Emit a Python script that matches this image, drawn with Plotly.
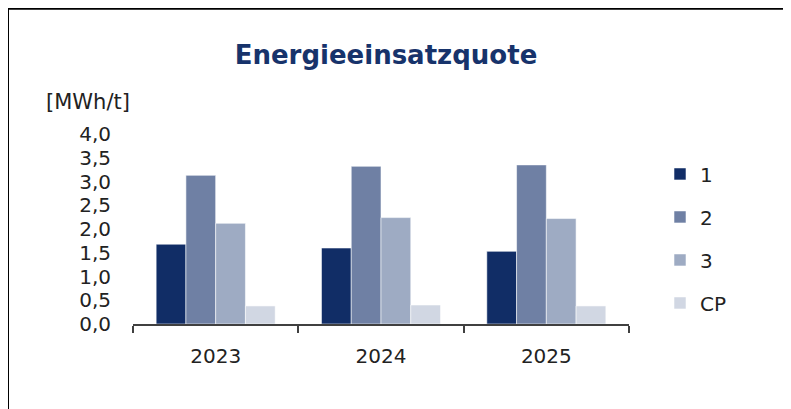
import plotly.graph_objects as go

years = ["2023", "2024", "2025"]
series_names = ["1", "2", "3", "CP"]
values_1 = [1.68, 1.60, 1.53]
values_2 = [3.13, 3.32, 3.35]
values_3 = [2.12, 2.24, 2.22]
values_cp = [0.38, 0.40, 0.38]
series_colors = ["#112d66", "#6f80a4", "#9eabc3", "#d1d7e3"]

# page body adds an 8px margin, so everything is laid out 8px up/left
OFF = 8
W, H = 791, 409
plot_x0, plot_x1 = 133, 629
plot_y0, plot_y1 = 133.5, 324
L = plot_x0 - OFF
T = plot_y0 - OFF
R = W - (plot_x1 - OFF)
B = H - (plot_y1 - OFF)
plot_w = plot_x1 - plot_x0
plot_h = plot_y1 - plot_y0


def px_x(px):
    return (px - plot_x0) / plot_w


def px_y(py):
    return (plot_y1 - py) / plot_h


fig = go.Figure()

for name, vals, color in zip(series_names, [values_1, values_2, values_3, values_cp], series_colors):
    fig.add_trace(
        go.Bar(
            x=years,
            y=vals,
            name=name,
            legendgroup=name,
            marker=dict(color=color, line=dict(color="rgba(255,255,255,0.55)", width=1)),
        )
    )

font_main = "DejaVu Sans, Verdana, sans-serif"

fig.update_layout(
    width=W,
    height=H,
    margin=dict(l=L, r=R, t=T, b=B, autoexpand=False),
    paper_bgcolor="white",
    plot_bgcolor="white",
    font=dict(family=font_main, color="#222222", size=20),
    barmode="group",
    bargap=0.28,
    bargroupgap=0,
    title=dict(
        text="<b>Energieeinsatzquote</b>",
        x=(386 - OFF) / W,
        xanchor="center",
        y=1 - (55 - OFF) / H,
        yanchor="middle",
        font=dict(size=26, color="#17336b", family=font_main),
    ),
    separators=",.",
    xaxis=dict(
        showline=True,
        linecolor="#404040",
        linewidth=1.5,
        ticks="outside",
        tickson="boundaries",
        ticklen=7,
        tickcolor="#404040",
        tickwidth=1.5,
        ticklabelstandoff=13,
        tickfont=dict(size=20),
        showgrid=False,
    ),
    yaxis=dict(
        range=[0, 4],
        dtick=0.5,
        tickformat=".1f",
        showgrid=False,
        zeroline=False,
        showline=False,
        ticks="",
        ticklabelstandoff=21,
        tickfont=dict(size=20),
    ),
    legend=dict(
        x=px_x(660),
        y=px_y(154),
        xanchor="left",
        yanchor="top",
        traceorder="grouped",
        tracegroupgap=14,
        font=dict(size=20),
        bgcolor="rgba(0,0,0,0)",
    ),
    annotations=[
        dict(
            text="[MWh/t]",
            xref="paper",
            yref="paper",
            x=px_x(44),
            y=px_y(101),
            xanchor="left",
            yanchor="middle",
            showarrow=False,
            font=dict(size=21, color="#222222"),
        )
    ],
    shapes=[
        dict(type="line", xref="paper", yref="paper",
             x0=px_x(8), x1=px_x(786), y0=px_y(8), y1=px_y(8),
             line=dict(color="black", width=2)),
        dict(type="line", xref="paper", yref="paper",
             x0=px_x(8), x1=px_x(8), y0=px_y(8), y1=px_y(420),
             line=dict(color="black", width=2)),
    ],
)

fig.write_html("out.html")
